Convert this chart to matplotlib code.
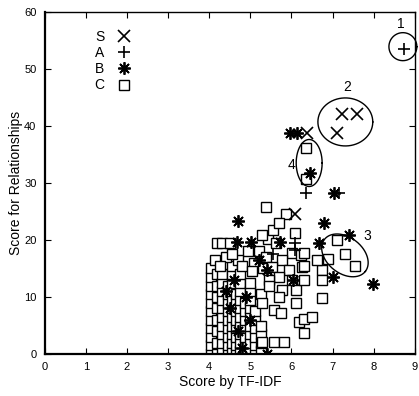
import numpy as np
import matplotlib.pyplot as plt

plt.rcParams['font.family'] = ['Liberation Sans', 'DejaVu Sans']

# S : crosses
s_x = [7.23, 7.60, 7.11, 6.38, 6.08]
s_y = [42.1, 42.1, 38.8, 38.8, 24.6]

# A : plus signs
a_x = [8.74, 6.36, 7.16, 6.09, 6.09, 5.55]
a_y = [53.5, 28.2, 28.2, 19.5, 18.2, 17.5]

# B : asterisks
b_x = [5.97, 6.14, 6.46, 7.04, 4.71, 4.68, 5.02, 5.73, 6.80, 6.67, 7.40, 7.00,
       7.99, 6.03, 5.41, 5.41, 4.50, 4.70, 4.90, 4.60, 5.00, 4.80, 4.40, 5.20]
b_y = [38.8, 38.8, 31.7, 28.2, 23.3, 19.6, 19.6, 19.6, 23.0, 19.5, 20.9, 13.5,
       12.3, 13.0, 0.0, 14.7, 8.0, 4.0, 10.0, 13.0, 6.0, 1.0, 11.0, 16.5]

# C : squares (dense block first, outliers after)
c_x = [4.05, 4.05, 4.05, 4.05, 4.05, 4.05, 4.05, 4.05, 4.05, 4.05, 4.05,
       4.20, 4.20, 4.20, 4.20, 4.20, 4.20, 4.20, 4.20, 4.20,
       4.32, 4.32, 4.32, 4.32, 4.32, 4.32, 4.32, 4.32, 4.32, 4.32,
       4.45, 4.45, 4.45, 4.45, 4.45, 4.45, 4.45, 4.45, 4.45,
       4.55, 4.55, 4.55, 4.55, 4.55, 4.55, 4.55, 4.55, 4.55, 4.55, 4.55,
       4.65, 4.65, 4.65, 4.65, 4.65, 4.65, 4.65, 4.65,
       4.75, 4.75, 4.75, 4.75, 4.75, 4.75, 4.75, 4.75, 4.75, 4.75,
       4.88, 4.88, 4.88, 4.88, 4.88, 4.88, 4.88,
       5.00, 5.00, 5.00, 5.00, 5.00, 5.00, 5.00, 5.00, 5.00,
       5.12, 5.12, 5.12, 5.12, 5.12, 5.12,
       5.25, 5.25, 5.25, 5.25, 5.25,
       4.30, 4.51, 4.95, 5.20, 4.15, 4.40, 4.70, 5.10, 5.30, 4.25, 4.55,
       4.80, 5.05,
       5.38, 5.87, 5.44, 5.54, 5.70, 6.09, 5.29, 5.63, 6.02, 6.24, 5.78,
       5.39, 5.53, 5.95, 6.26, 5.70, 6.02, 5.46, 5.78, 6.12,
       5.29, 5.58, 5.75, 5.70, 5.58, 5.83, 5.29, 5.45,
       6.12, 6.19, 6.30, 6.50, 6.31, 6.30, 6.75, 6.75, 6.30, 6.31, 6.63,
       6.90, 6.75, 7.11, 7.30, 7.55, 6.36, 6.36]
c_y = [0.0, 1.5, 3.0, 4.5, 6.0, 7.5, 9.0, 10.5, 12.0, 13.5, 15.0,
       0.0, 2.0, 4.0, 6.0, 8.0, 10.0, 12.0, 14.0, 19.5,
       0.5, 2.0, 3.5, 5.0, 6.5, 8.0, 9.5, 11.0, 12.5, 14.0,
       0.0, 1.5, 3.0, 4.5, 6.0, 7.5, 9.0, 10.5, 12.0,
       0.5, 2.0, 3.5, 5.0, 6.5, 8.0, 9.5, 11.0, 12.5, 14.0, 15.5,
       0.0, 1.5, 3.0, 4.5, 6.0, 7.5, 9.0, 10.5,
       0.5, 2.0, 3.5, 5.0, 6.5, 8.0, 9.5, 11.0, 12.5, 14.0,
       0.0, 1.5, 3.0, 4.5, 6.0, 7.5, 9.0,
       0.5, 2.0, 3.5, 5.0, 6.5, 8.0, 9.5, 11.0, 12.5,
       0.0, 1.5, 3.0, 4.5, 6.0, 7.5,
       0.5, 2.0, 3.5, 5.0, 10.5,
       19.5, 19.5, 18.0, 18.0, 16.5, 17.0, 16.5, 16.0, 15.0, 15.5, 17.5,
       15.5, 14.5,
       25.8, 24.6, 20.2, 21.8, 23.0, 21.2, 20.9, 19.5, 17.7, 17.4, 16.5,
       17.0, 15.3, 14.7, 15.3, 13.5, 13.0, 13.0, 11.2, 11.2,
       8.9, 7.7, 7.2, 10.0, 2.1, 2.1, 2.1, 12.0,
       8.9, 5.6, 6.1, 6.5, 3.7, 17.7, 14.7, 13.0, 13.0, 15.4, 16.5,
       16.7, 9.8, 20.0, 17.5, 15.4, 36.1, 30.7]

fig = plt.figure(figsize=(4.19, 3.96), dpi=100)
ax = fig.add_axes([0.107, 0.106, 0.883, 0.864])

ax.plot(c_x, c_y, 's', ms=7.8, mfc='white', mec='black', mew=1.0, label='C', zorder=2)
ax.plot(b_x, b_y, marker=(8, 2, 0), ls='none', ms=9, mec='black', mew=1.3, label='B', zorder=3)
ax.plot(a_x, a_y, '+', ms=9, mec='black', mew=1.2, label='A', zorder=3)
ax.plot(s_x, s_y, 'x', ms=8, mec='black', mew=1.2, label='S', zorder=3)

# circled groups
def ring(cx, cy, w, h, ang=0):
    t = np.linspace(0, 2 * np.pi, 200)
    th = np.deg2rad(ang)
    dx = w / 2 * np.cos(t) * np.cos(th) - h / 2 * np.sin(t) * np.sin(th)
    dy = w / 2 * np.cos(t) * np.sin(th) + h / 2 * np.sin(t) * np.cos(th)
    # widths given in pixels -> data units
    ax.plot(cx + dx / 41.2, cy + dy / 5.7, color='black', lw=1.0, clip_on=False)

ring(8.71, 53.9, 28, 28)
ring(7.31, 40.7, 55, 48)
ring(6.43, 33.5, 26, 47)
ring(7.30, 17.3, 52, 36, -38)

ax.text(8.65, 57.8, '1', fontsize=10, ha='center', va='center')
ax.text(7.35, 46.8, '2', fontsize=10, ha='center', va='center')
ax.text(7.85, 20.7, '3', fontsize=10, ha='center', va='center')
ax.text(6.0, 33.2, '4', fontsize=10, ha='center', va='center')

h, l = ax.get_legend_handles_labels()
ax.legend(h[::-1], l[::-1], loc='upper left', bbox_to_anchor=(0.108, 0.975),
          frameon=False, markerfirst=False, fontsize=10, labelspacing=0.15,
          handletextpad=0.9, handlelength=1.0, borderpad=0.2)

ax.set_xlim(0, 9)
ax.set_ylim(0, 60)
ax.set_xticks(range(0, 10))
ax.set_yticks(range(0, 61, 10))
ax.tick_params(direction='in', top=True, right=True, length=4, labelsize=8, pad=6)
for sp in ['left', 'bottom']:
    ax.spines[sp].set_linewidth(1.6)
for sp in ['top', 'right']:
    ax.spines[sp].set_linewidth(1.0)
ax.set_xlabel('Score by TF-IDF', fontsize=10, labelpad=2)
ax.set_ylabel('Score for Relationships', fontsize=10, labelpad=1)

fig.savefig('out.png', dpi=100)
